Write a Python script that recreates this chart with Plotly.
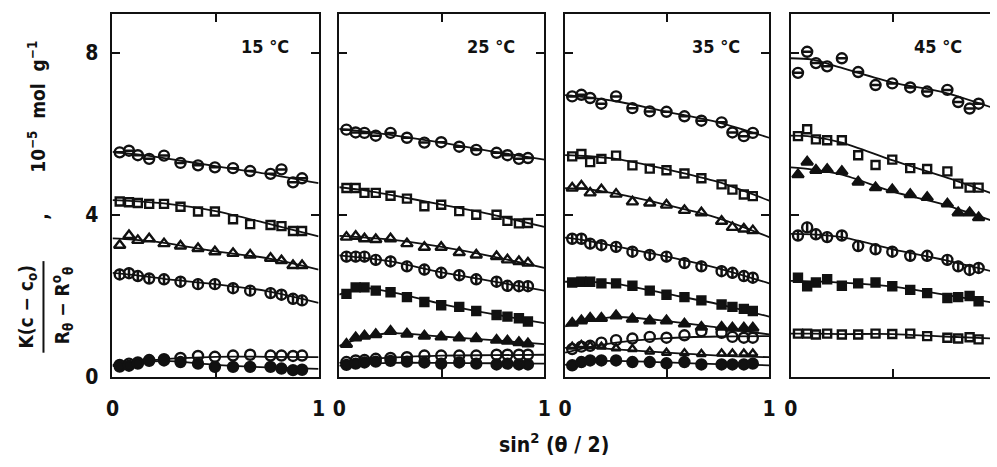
import plotly.graph_objects as go

# Scattering angle abscissa, sin^2(theta/2), shared by every series
SIN2 = [0.035, 0.08, 0.123, 0.178, 0.25, 0.33, 0.415, 0.497, 0.585, 0.668, 0.767, 0.82, 0.876, 0.92]
# Abscissa nodes at which the fitted curves are given
FIT_X = [0.0, 0.1, 0.25, 0.5, 0.75, 1.0]

TEMPS = ["15 °C", "25 °C", "35 °C", "45 °C"]

# ---- 15 °C ----
T15_THETA = [5.54, 5.58, 5.47, 5.38, 5.46, 5.28, 5.22, 5.17, 5.15, 5.08, 5.01, 5.12, 4.80, 4.90]
T15_SQ = [4.33, 4.31, 4.29, 4.27, 4.27, 4.20, 4.08, 4.08, 3.89, 3.77, 3.75, 3.72, 3.60, 3.60]
T15_TRI = [3.25, 3.49, 3.37, 3.41, 3.29, 3.23, 3.17, 3.09, 3.05, 3.01, 2.93, 2.87, 2.75, 2.75]
T15_HALF = [2.53, 2.56, 2.49, 2.43, 2.41, 2.35, 2.29, 2.29, 2.19, 2.13, 2.07, 2.03, 1.93, 1.89]
T15_OPEN = [0.30, 0.33, 0.36, 0.42, 0.44, 0.47, 0.52, 0.50, 0.53, 0.55, 0.53, 0.53, 0.52, 0.53]
T15_FILL = [0.26, 0.28, 0.33, 0.40, 0.41, 0.37, 0.33, 0.25, 0.25, 0.25, 0.25, 0.21, 0.17, 0.18]
F15_THETA = [5.55, 5.50, 5.40, 5.20, 5.01, 4.78]
F15_SQ = [4.36, 4.34, 4.28, 4.09, 3.79, 3.47]
F15_TRI = [3.42, 3.39, 3.31, 3.10, 2.93, 2.65]
F15_HALF = [2.57, 2.52, 2.42, 2.29, 2.12, 1.83]
F15_OPEN = [0.30, 0.36, 0.44, 0.50, 0.50, 0.49]
F15_FILL = [0.27, 0.33, 0.40, 0.30, 0.24, 0.20]

# ---- 25 °C ----
T25_THETA = [6.10, 6.03, 6.02, 5.95, 6.02, 5.90, 5.78, 5.79, 5.68, 5.60, 5.53, 5.47, 5.38, 5.40]
T25_SQ = [4.66, 4.66, 4.54, 4.54, 4.47, 4.40, 4.21, 4.25, 4.09, 4.00, 4.00, 3.85, 3.79, 3.80]
T25_TRI = [3.45, 3.47, 3.41, 3.39, 3.41, 3.29, 3.20, 3.20, 3.07, 3.01, 2.97, 2.89, 2.85, 2.81]
T25_HALF = [2.97, 2.97, 2.97, 2.89, 2.85, 2.73, 2.65, 2.57, 2.51, 2.41, 2.35, 2.25, 2.24, 2.24]
T25_FSQ = [2.05, 2.21, 2.21, 2.13, 2.09, 1.97, 1.85, 1.77, 1.73, 1.63, 1.53, 1.49, 1.45, 1.37]
T25_FTRI = [0.81, 0.97, 1.01, 1.05, 1.13, 1.06, 1.01, 0.99, 0.97, 0.95, 0.91, 0.89, 0.85, 0.82]
T25_OPEN = [0.37, 0.41, 0.42, 0.45, 0.47, 0.49, 0.53, 0.53, 0.53, 0.53, 0.55, 0.55, 0.55, 0.55]
T25_FILL = [0.30, 0.33, 0.36, 0.38, 0.40, 0.38, 0.36, 0.33, 0.36, 0.33, 0.31, 0.33, 0.31, 0.31]
F25_THETA = [6.12, 6.07, 5.97, 5.78, 5.56, 5.36]
F25_SQ = [4.68, 4.62, 4.49, 4.25, 4.00, 3.70]
F25_TRI = [3.48, 3.45, 3.39, 3.21, 2.97, 2.69]
F25_HALF = [3.00, 2.95, 2.85, 2.58, 2.36, 2.13]
F25_FSQ = [2.03, 2.20, 2.10, 1.80, 1.55, 1.33]
F25_FTRI = [0.77, 0.95, 1.08, 1.00, 0.91, 0.81]
F25_OPEN = [0.35, 0.42, 0.48, 0.53, 0.54, 0.55]
F25_FILL = [0.28, 0.32, 0.35, 0.35, 0.34, 0.33]

# ---- 35 °C ----
T35_THETA = [6.92, 6.96, 6.88, 6.74, 6.92, 6.63, 6.55, 6.54, 6.43, 6.32, 6.28, 6.03, 5.94, 6.02]
T35_SQ = [5.44, 5.50, 5.30, 5.38, 5.46, 5.22, 5.14, 5.10, 5.02, 4.90, 4.75, 4.62, 4.50, 4.46]
T35_TRI = [4.66, 4.71, 4.54, 4.62, 4.51, 4.32, 4.29, 4.24, 4.11, 4.05, 3.84, 3.69, 3.65, 3.61]
T35_HALF = [3.41, 3.41, 3.29, 3.25, 3.21, 3.09, 3.01, 2.97, 2.81, 2.73, 2.61, 2.57, 2.49, 2.45]
T35_FSQ = [2.33, 2.35, 2.35, 2.31, 2.31, 2.25, 2.13, 2.03, 1.97, 1.89, 1.79, 1.73, 1.68, 1.63]
T35_FTRI = [1.33, 1.39, 1.45, 1.45, 1.51, 1.43, 1.39, 1.39, 1.31, 1.23, 1.23, 1.21, 1.21, 1.21]
T35_OPEN = [0.69, 0.75, 0.77, 0.85, 0.91, 0.95, 0.99, 0.97, 1.03, 1.13, 1.09, 0.99, 0.97, 0.97]
T35_STRI = [0.75, 0.79, 0.77, 0.75, 0.71, 0.69, 0.63, 0.60, 0.59, 0.57, 0.58, 0.58, 0.58, 0.58]
T35_FILL = [0.29, 0.37, 0.41, 0.41, 0.41, 0.37, 0.37, 0.34, 0.37, 0.31, 0.31, 0.31, 0.31, 0.33]
F35_THETA = [6.95, 6.90, 6.80, 6.54, 6.28, 5.90]
F35_SQ = [5.47, 5.45, 5.38, 5.12, 4.81, 4.35]
F35_TRI = [4.66, 4.64, 4.52, 4.24, 3.92, 3.45]
F35_HALF = [3.44, 3.37, 3.22, 2.97, 2.68, 2.31]
F35_FSQ = [2.35, 2.35, 2.30, 2.05, 1.80, 1.49]
F35_FTRI = [1.25, 1.38, 1.48, 1.38, 1.22, 1.05]
F35_OPEN = [0.60, 0.72, 0.85, 0.96, 1.00, 1.01]
F35_STRI = [0.72, 0.73, 0.68, 0.60, 0.53, 0.49]
F35_FILL = [0.30, 0.38, 0.40, 0.36, 0.32, 0.29]

# ---- 45 °C ----
T45_THETA = [7.50, 8.02, 7.74, 7.66, 7.86, 7.52, 7.20, 7.24, 7.14, 7.04, 7.08, 6.78, 6.62, 6.74]
T45_SQ = [5.94, 6.11, 5.86, 5.84, 5.84, 5.47, 5.23, 5.36, 5.15, 5.13, 5.07, 4.77, 4.67, 4.67]
T45_FTRI = [4.99, 5.30, 5.10, 5.12, 5.07, 4.81, 4.67, 4.62, 4.50, 4.43, 4.27, 4.05, 4.05, 3.93]
T45_HALF = [3.49, 3.69, 3.52, 3.45, 3.49, 3.23, 3.15, 3.09, 2.99, 2.99, 2.89, 2.73, 2.64, 2.69]
T45_FSQ = [2.45, 2.24, 2.33, 2.41, 2.25, 2.31, 2.33, 2.24, 2.15, 2.07, 1.95, 1.97, 2.00, 1.87]
T45_OSQ = [1.07, 1.07, 1.05, 1.07, 1.05, 1.05, 1.07, 1.06, 1.07, 1.01, 0.97, 0.95, 0.98, 0.93]
F45_THETA = [7.86, 7.83, 7.62, 7.26, 7.02, 6.62]
F45_SQ = [5.95, 5.93, 5.78, 5.34, 4.94, 4.50]
F45_FTRI = [5.17, 5.12, 4.99, 4.57, 4.25, 3.83]
F45_HALF = [3.53, 3.52, 3.45, 3.15, 2.89, 2.59]
F45_FSQ = [2.37, 2.36, 2.33, 2.23, 2.03, 1.83]
F45_OSQ = [1.07, 1.07, 1.06, 1.06, 1.00, 0.95]

# marker styles: (symbol, size, overlay bar symbol or None)
STYLE = {
    "theta": ("circle-open", 10, "line-ew"),
    "sq": ("square-open", 8, None),
    "tri": ("triangle-up-open", 10, None),
    "half": ("circle-open", 10, "line-ns"),
    "fsq": ("square", 8, None),
    "ftri": ("triangle-up", 10, None),
    "open": ("circle-open", 10, None),
    "fill": ("circle", 10, None),
    "stri": ("triangle-up-open", 8, None),
    "osq": ("square-open", 8, None),
}

PANELS = [
    [("theta", T15_THETA, F15_THETA), ("sq", T15_SQ, F15_SQ), ("tri", T15_TRI, F15_TRI),
     ("half", T15_HALF, F15_HALF), ("open", T15_OPEN, F15_OPEN), ("fill", T15_FILL, F15_FILL)],
    [("theta", T25_THETA, F25_THETA), ("sq", T25_SQ, F25_SQ), ("tri", T25_TRI, F25_TRI),
     ("half", T25_HALF, F25_HALF), ("fsq", T25_FSQ, F25_FSQ), ("ftri", T25_FTRI, F25_FTRI),
     ("open", T25_OPEN, F25_OPEN), ("fill", T25_FILL, F25_FILL)],
    [("theta", T35_THETA, F35_THETA), ("sq", T35_SQ, F35_SQ), ("tri", T35_TRI, F35_TRI),
     ("half", T35_HALF, F35_HALF), ("fsq", T35_FSQ, F35_FSQ), ("ftri", T35_FTRI, F35_FTRI),
     ("open", T35_OPEN, F35_OPEN), ("stri", T35_STRI, F35_STRI), ("fill", T35_FILL, F35_FILL)],
    [("theta", T45_THETA, F45_THETA), ("sq", T45_SQ, F45_SQ), ("ftri", T45_FTRI, F45_FTRI),
     ("half", T45_HALF, F45_HALF), ("fsq", T45_FSQ, F45_FSQ), ("osq", T45_OSQ, F45_OSQ)],
]

W, H = 997, 467
FONT = "DejaVu Sans Condensed, Liberation Sans Narrow, Arial Narrow, sans-serif"
INK = "#111111"

# panel frames in pixels (left, right); common top/bottom
FRAMES_X = [(107, 316), (337, 545), (566, 773), (795, 997)]
TOP, BOTTOM = 14, 387
Y_MAX = 8.96


def fx(p):
    return p / W


def fy(p):
    return 1 - p / H


fig = go.Figure()

for i, series in enumerate(PANELS):
    ax = "" if i == 0 else str(i + 1)
    for kind, pts, fit in series:
        sym, size, bar = STYLE[kind]
        fig.add_trace(go.Scatter(
            x=FIT_X, y=fit, mode="lines",
            line=dict(color=INK, width=1.8, shape="spline", smoothing=0.8),
            xaxis="x" + ax, yaxis="y" + ax, showlegend=False, hoverinfo="skip"))
        fig.add_trace(go.Scatter(
            x=SIN2, y=pts, mode="markers",
            marker=dict(symbol=sym, size=size, color=INK, line=dict(color=INK, width=2.4)),
            xaxis="x" + ax, yaxis="y" + ax, showlegend=False))
        if bar:
            fig.add_trace(go.Scatter(
                x=SIN2, y=pts, mode="markers",
                marker=dict(symbol=bar, size=8, color=INK, line=dict(color=INK, width=2.5)),
                xaxis="x" + ax, yaxis="y" + ax, showlegend=False, hoverinfo="skip"))

tickfont = dict(family=FONT, size=21, color=INK, weight="bold")
layout = dict(
    width=W, height=H, margin=dict(l=0, r=0, t=0, b=0),
    paper_bgcolor="white", plot_bgcolor="white", showlegend=False,
    font=dict(family=FONT, color=INK),
)
for i, (l, r) in enumerate(FRAMES_X):
    ax = "" if i == 0 else str(i + 1)
    last = i == len(FRAMES_X) - 1
    x_hi = (r - l) / 207.0 if last else 1.0
    layout["xaxis" + ax] = dict(
        domain=[fx(l), fx(r)], range=[0, x_hi], anchor="y" + ax,
        showline=True, linecolor=INK, linewidth=2, mirror="ticks",
        ticks="inside", ticklen=8, tickwidth=2, tickcolor=INK,
        tickvals=[0, 1] if not last else [0], tickfont=tickfont,
        minor=dict(tickvals=[0.5], ticks="inside", ticklen=8, tickwidth=2, tickcolor=INK),
        ticklabelstandoff=12, showgrid=False, zeroline=False, fixedrange=True)
    layout["yaxis" + ax] = dict(
        domain=[fy(BOTTOM), fy(TOP)], range=[0, Y_MAX], anchor="x" + ax,
        showline=True, linecolor=INK, linewidth=2, mirror=("ticks" if not last else False),
        ticks="inside", ticklen=8, tickwidth=2, tickcolor=INK,
        tickvals=[0, 4, 8], showticklabels=(i == 0), tickfont=tickfont,
        ticklabelstandoff=8, showgrid=False, zeroline=False, fixedrange=True)

ann = []
for i, t in enumerate(TEMPS):
    ax = "" if i == 0 else str(i + 1)
    ann.append(dict(text=t, xref="x" + ax + " domain", yref="paper", x=0.74, y=fy(48),
                    xanchor="center", yanchor="middle", showarrow=False,
                    font=dict(family=FONT, size=18, weight="bold", color=INK)))

lab = dict(family=FONT, size=19, weight="bold", color=INK)
ann += [
    dict(text="sin<sup>2</sup> (θ / 2)", x=fx(555), y=fy(455),
         font=dict(family=FONT, size=21, weight="bold", color=INK)),
    dict(text="10<sup>−5</sup>\u00a0 mol\u00a0 g<sup>−1</sup>", x=fx(31), y=fy(110),
         textangle=-90, font=lab),
    dict(text=",", x=fx(35), y=fy(222), textangle=-90, font=lab),
    dict(text="K(c − c<sub>o</sub>)", x=fx(21), y=fy(315), textangle=-90, font=lab),
    dict(text="R<sub>θ</sub> − R<sup>o</sup><sub>θ</sub>", x=fx(57), y=fy(314),
         textangle=-90, font=lab),
]
for a in ann[len(TEMPS):]:
    a.update(xref="paper", yref="paper", xanchor="center", yanchor="middle", showarrow=False)
layout["annotations"] = ann
# fraction bar of the ordinate label
layout["shapes"] = [
    dict(type="line", xref="paper", yref="paper", x0=fx(37), x1=fx(37),
         y0=fy(268), y1=fy(362), line=dict(color=INK, width=2)),
]

fig.update_layout(**layout)
fig.write_html("out.html")
